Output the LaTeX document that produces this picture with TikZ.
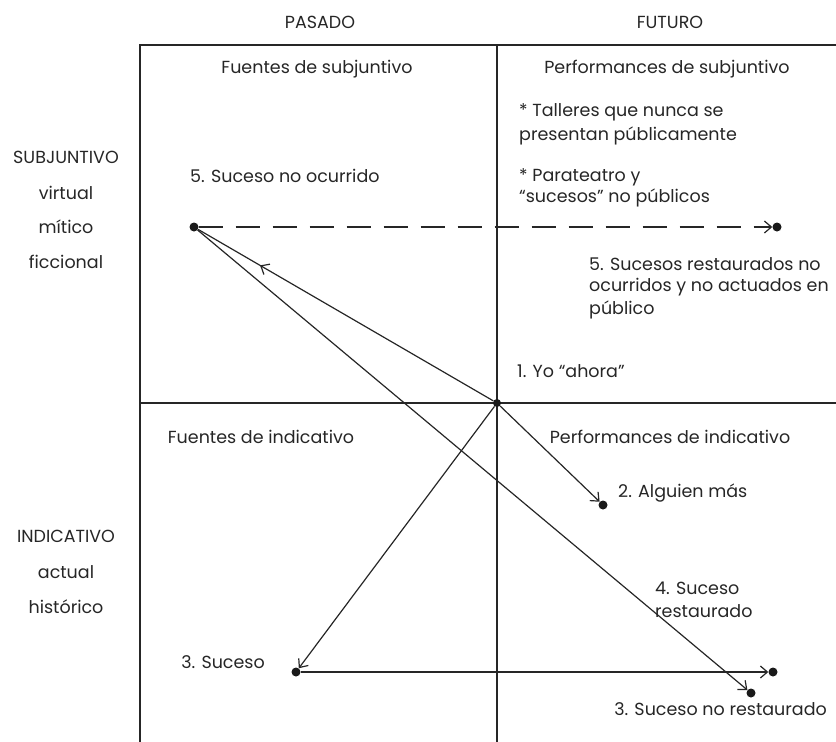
\documentclass[tikz,border=0pt]{standalone}
\usepackage{fontspec}
\setmainfont{Poppins}
\usetikzlibrary{arrows.meta,decorations.markings}
\begin{document}
\begin{tikzpicture}[x=1pt,y=-1pt,
  txt/.style={font=\fontsize{17.5}{20}\selectfont, inner sep=0pt, text=black!85},
  lt/.style={txt, anchor=west},
  framel/.style={line width=2.6pt, draw=black!85},
  conn/.style={line width=1.2pt, draw=black!85},
  tip/.style={-{Straight Barb[length=7pt,width=12pt]}},
  dot/.style={circle, fill=black!90, inner sep=0pt, minimum size=9pt},
  midtip/.style={postaction={decorate}, decoration={markings, mark=at position 0.79 with {\arrow{Straight Barb[length=7pt,width=12pt]}}}}
]
\useasboundingbox (0,0) rectangle (836,742);
% frame
\draw[framel] (836,45) -- (140,45) -- (140,742);
\draw[framel] (497,45) -- (497,742);
\draw[framel] (140,403) -- (836,403);
% headings
\node[txt] (pasado) at (320,22) {PASADO};
\node[txt] (futuro) at (670,22) {FUTURO};
\node[txt] (q1) at (317,69) {Fuentes de subjuntivo};
\node[txt] (q2) at (667,69) {Performances de subjuntivo};
\node[txt] (q3) at (261,437) {Fuentes de indicativo};
\node[txt] (q4) at (670,437) {Performances de indicativo};
% left labels
\node[txt] (l1) at (66,157) {SUBJUNTIVO};
\node[txt] (l2) at (66,193) {virtual};
\node[txt] (l3) at (66,227) {mítico};
\node[txt] (l4) at (66,262) {ficcional};
\node[txt] (l5) at (66,536) {INDICATIVO};
\node[txt] (l6) at (66,572) {actual};
\node[txt] (l7) at (66,607) {histórico};
% upper right notes
\node[lt] (n1) at (519,112) {* Talleres que nunca se};
\node[lt] (n2) at (519,136) {presentan públicamente};
\node[lt] (n3) at (519,177) {* Parateatro y};
\node[lt] (n4) at (519,198) {“sucesos” no públicos};
\node[lt] (n5) at (589,264) {5. Sucesos restaurados no};
\node[lt] (n6) at (589,287) {ocurridos y no actuados en};
\node[lt] (n7) at (589,310) {público};
% point labels
\node[lt] (t5) at (190,176) {5. Suceso no ocurrido};
\node[lt] (t1) at (517,371) {1. Yo “ahora”};
\node[lt] (t2) at (618,493) {2. Alguien más};
\node[lt] (t4a) at (655,588) {4. Suceso};
\node[lt] (t4b) at (655,611) {restaurado};
\node[txt, anchor=east] (t3) at (265,662) {3. Suceso};
\node[txt, anchor=east] (t3n) at (827,709) {3. Suceso no restaurado};
% dots
\node[dot] (A) at (194,227) {};
\node[dot] (B) at (777,227) {};
\node[dot, minimum size=8pt] (O) at (497,403) {};
\node[dot] (D2) at (603,505) {};
\node[dot] (D3) at (296,672) {};
\node[dot] (DR) at (773,672) {};
\node[dot] (DN) at (751,693) {};
% connectors
\draw[conn, tip, dash pattern=on 24pt off 13pt] (A) -- (B);
\draw[conn, midtip] (O) -- (A);
\draw[conn, tip] (A) -- (DN);
\draw[conn, tip] (O) -- (D2);
\draw[conn, tip] (O) -- (D3);
\draw[conn, tip] (D3) -- (DR);
\end{tikzpicture}
\end{document}
